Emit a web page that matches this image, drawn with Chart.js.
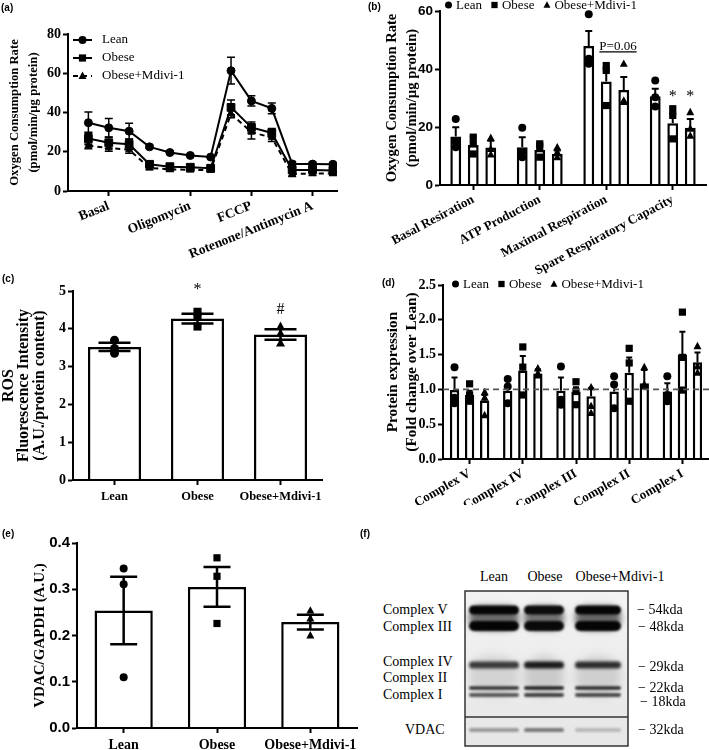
<!DOCTYPE html>
<html>
<head>
<meta charset="utf-8">
<title>Mitochondrial respiration panels</title>
<script src="https://cdn.jsdelivr.net/npm/chart.js@4.4.1/dist/chart.umd.min.js"></script>
<style>
  body { margin: 0; background: #fff; }
  #fig { position: relative; width: 709px; height: 750px; overflow: hidden; background: #fff; }
  .pane { position: absolute; }
  .tag { position: absolute; font: bold 10px "Liberation Sans", Arial, sans-serif; }
  .blt { position: absolute; font: 14px "Liberation Serif", serif; line-height: 16px; white-space: nowrap; }
</style>
</head>
<body>
<div id="fig">
  <div class="pane" style="left:0;top:0;width:350px;height:272px"><canvas id="chartA"></canvas></div>
  <div class="pane" style="left:350px;top:0;width:370px;height:275px"><canvas id="chartB"></canvas></div>
  <div class="pane" style="left:0;top:255px;width:330px;height:250px"><canvas id="chartC"></canvas></div>
  <div class="pane" style="left:350px;top:255px;width:370px;height:250px"><canvas id="chartD"></canvas></div>
  <div class="pane" style="left:0;top:505px;width:365px;height:245px"><canvas id="chartE"></canvas></div>
  <canvas id="blot" width="185" height="170" style="position:absolute;left:455px;top:585px"></canvas>

  <div class="tag" style="left:1px;top:2px">(a)</div>
  <div class="tag" style="left:368px;top:1px">(b)</div>
  <div class="tag" style="left:2px;top:273px">(c)</div>
  <div class="tag" style="left:382px;top:277px">(d)</div>
  <div class="tag" style="left:2px;top:528px">(e)</div>
  <div class="tag" style="left:360px;top:528px">(f)</div>

  <!-- (f) western blot labels -->
  <div class="blt" style="left:494px;top:577px;transform:translate(-50%,-50%)">Lean</div>
  <div class="blt" style="left:545px;top:577px;transform:translate(-50%,-50%)">Obese</div>
  <div class="blt" style="left:620px;top:577px;transform:translate(-50%,-50%)">Obese+Mdivi-1</div>
  <div class="blt" style="left:383px;top:610px;transform:translateY(-50%)">Complex V</div>
  <div class="blt" style="left:383px;top:627px;transform:translateY(-50%)">Complex III</div>
  <div class="blt" style="left:383px;top:662px;transform:translateY(-50%)">Complex IV</div>
  <div class="blt" style="left:383px;top:678px;transform:translateY(-50%)">Complex II</div>
  <div class="blt" style="left:383px;top:695px;transform:translateY(-50%)">Complex I</div>
  <div class="blt" style="left:405px;top:730px;transform:translateY(-50%)">VDAC</div>
  <div class="blt" style="left:637px;top:610px;transform:translateY(-50%)">− 54kda</div>
  <div class="blt" style="left:638px;top:627px;transform:translateY(-50%)">− 48kda</div>
  <div class="blt" style="left:638px;top:667px;transform:translateY(-50%)">− 29kda</div>
  <div class="blt" style="left:638px;top:688px;transform:translateY(-50%)">− 22kda</div>
  <div class="blt" style="left:640px;top:702px;transform:translateY(-50%)">− 18kda</div>
  <div class="blt" style="left:638px;top:730px;transform:translateY(-50%)">− 32kda</div>
</div>

<script>
// (a) OCR trace, 13 measurements
const ocrLabels = ["Basal", "Oligomycin", "FCCP", "Rotenone/Antimycin A"];
const ocrLabelAt = [2, 6, 9, 12];
const ocrLean = [34.8, 32.2, 30.5, 22.5, 19.6, 18.1, 17.3, 61.3, 45.9, 42.1, 13.8, 13.7, 13.6];
const ocrLeanErr = [5.4, 4.7, 4.0, 0.8, 0.6, 0.5, 0.5, 6.8, 2.6, 2.8, 1.2, 1.0, 0.8];
const ocrObese = [26.8, 24.6, 23.8, 13.6, 12.4, 12.1, 11.6, 42.6, 32.4, 29.6, 10.7, 10.7, 10.5];
const ocrObeseErr = [3.2, 2.8, 2.6, 1.6, 1.2, 1.0, 1.2, 3.8, 2.8, 2.2, 1.5, 1.4, 1.3];
const ocrMdivi = [23.0, 22.0, 21.0, 11.8, 11.0, 10.8, 10.7, 39.3, 30.0, 27.2, 8.6, 8.9, 8.9];
const ocrMdiviErr = [1.5, 1.8, 1.8, 1.0, 1.0, 1.0, 1.0, 2.0, 3.5, 2.0, 1.2, 1.0, 1.0];

// (b) respiration parameters
const respCats = ["Basal Resiration", "ATP Production", "Maximal Respiration", "Spare Respiratory Capacity"];
const respLean = [16.7, 13.0, 47.9, 30.6];
const respLeanErr = [3.2, 3.5, 5.2, 2.6];
const respObese = [13.8, 12.1, 35.7, 21.3];
const respObeseErr = [2.9, 2.3, 3.8, 3.2];
const respMdivi = [12.9, 10.7, 32.8, 19.7];
const respMdiviErr = [2.4, 1.2, 4.4, 3.1];
const respLeanDots = [[22.8, 15.0, 13.0], [19.7, 11.3, 9.6], [58.9, 43.5, 41.8], [36.0, 30.3, 27.1]];
const respObeseDots = [[16.5, 14.2, 10.7], [14.2, 13.0, 9.6], [41.2, 39.5, 27.4], [26.3, 24.0, 15.9]];
const respMdiviDots = [[16.2, 12.4, 10.5], [13.0, 11.3, 9.6], [41.8, 29.1, 28.6], [25.1, 19.4, 17.0]];
const respStars = ["", "*", "*"];
const respStarAt = 30.5;
const pText = "P=0.06";
const pLineAt = 45.9;

// (c) ROS
const groupNames = ["Lean", "Obese", "Obese+Mdivi-1"];
const rosMean = [3.52, 4.27, 3.85];
const rosErr = [0.11, 0.13, 0.14];
const rosDots = [[3.70, 3.48, 3.35], [4.45, 4.32, 4.06], [4.06, 3.88, 3.62]];
const rosSig = ["", "*", "#"];
const rosSigAt = [0, 5.02, 4.5];

// (d) OXPHOS complexes
const cxCats = ["Complex V", "Complex IV", "Complex III", "Complex II", "Complex I"];
const cxLean = [0.99, 0.98, 0.98, 0.97, 0.97];
const cxLeanErr = [0.18, 0.07, 0.19, 0.12, 0.12];
const cxObese = [0.92, 1.27, 0.97, 1.24, 1.50];
const cxObeseErr = [0.06, 0.21, 0.06, 0.22, 0.33];
const cxMdivi = [0.84, 1.23, 0.90, 1.09, 1.39];
const cxMdiviErr = [0.08, 0.06, 0.12, 0.19, 0.14];
const cxLeanDots = [[1.32, 0.88, 0.80], [1.15, 1.04, 0.80], [1.33, 0.85, 0.78], [1.19, 1.07, 0.73], [1.19, 0.92, 0.83]];
const cxObeseDots = [[1.08, 0.92, 0.83], [1.61, 1.32, 0.92], [1.11, 0.97, 0.78], [1.59, 1.38, 0.83], [2.11, 1.46, 0.99]];
const cxMdiviDots = [[0.96, 0.88, 0.63], [1.30, 1.23, 1.20], [1.03, 0.76, 0.66], [1.32, 1.07, 1.04], [1.62, 1.33, 1.24]];
const foldRef = 1.0;

// (e) VDAC/GAPDH
const vdacMean = [0.254, 0.305, 0.229];
const vdacErr = [0.073, 0.043, 0.016];
const vdacDots = [[0.345, 0.311, 0.110], [0.368, 0.328, 0.226], [0.254, 0.237, 0.200]];

const groupMarks = ["circle", "rect", "triangle"];

Chart.defaults.font.family = "'Liberation Serif', 'Times New Roman', serif";
Chart.defaults.color = '#000';
Chart.defaults.animation = false;
Chart.defaults.plugins.legend.display = false;
Chart.defaults.plugins.tooltip.enabled = false;

const serifB = (size, lineHeight) => ({ family: "'Liberation Serif', serif", weight: 'bold', size, lineHeight: lineHeight || 1.2 });
const sansB = size => ({ family: "'Liberation Sans', Arial, sans-serif", weight: 'bold', size });

// small filled marker
function mark(ctx, style, x, y, r) {
    ctx.beginPath();
    if (style === 'rect') {
        ctx.rect(x - r * 0.9, y - r * 0.9, r * 1.8, r * 1.8);
    } else if (style === 'triangle') {
        ctx.moveTo(x, y - r * 1.1);
        ctx.lineTo(x + r, y + r * 0.75);
        ctx.lineTo(x - r, y + r * 0.75);
        ctx.closePath();
    } else {
        ctx.arc(x, y, r, 0, Math.PI * 2);
    }
    ctx.fill();
}

// individual animals drawn over each bar
const dotMarks = {
    id: 'dotMarks',
    afterDatasetsDraw(chart, args, o) {
        const ctx = chart.ctx, y = chart.scales.y;
        ctx.save();
        ctx.fillStyle = '#000';
        chart.data.datasets.forEach((ds, d) => {
            if (!ds.dots) return;
            chart.getDatasetMeta(d).data.forEach((el, i) => {
                const style = Array.isArray(ds.mark) ? ds.mark[i] : ds.mark;
                ds.dots[i].forEach(v => mark(ctx, style, el.x, y.getPixelForValue(v), o.r || 4));
            });
        });
        ctx.restore();
    }
};

// SEM error bars
const errorBars = {
    id: 'errorBars',
    afterDatasetsDraw(chart, args, o) {
        const ctx = chart.ctx, y = chart.scales.y;
        ctx.save();
        ctx.strokeStyle = '#000';
        ctx.lineWidth = o.width || 2;
        chart.data.datasets.forEach((ds, d) => {
            if (!ds.errors) return;
            chart.getDatasetMeta(d).data.forEach((el, i) => {
                const raw = ds.data[i];
                const v = typeof raw === 'object' ? raw.y : raw;
                const e = ds.errors[i];
                const x = el.x, c = (o.cap || 8) / 2;
                const yv = y.getPixelForValue(v), yt = y.getPixelForValue(v + e), yb = y.getPixelForValue(v - e);
                ctx.beginPath();
                ctx.moveTo(x, o.both ? yb : yv);
                ctx.lineTo(x, yt);
                ctx.moveTo(x - c, yt);
                ctx.lineTo(x + c, yt);
                if (o.both) {
                    ctx.moveTo(x - c, yb);
                    ctx.lineTo(x + c, yb);
                }
                ctx.stroke();
            });
        });
        ctx.restore();
    }
};

// legend with line/marker samples
const miniLegend = {
    id: 'miniLegend',
    afterDraw(chart, args, o) {
        if (!o.font) return;
        const ctx = chart.ctx, a = chart.chartArea;
        ctx.save();
        ctx.font = o.font;
        ctx.fillStyle = '#000';
        ctx.strokeStyle = '#000';
        ctx.textBaseline = 'middle';
        let x = a.left + o.x, y = a.top + o.y;
        chart.data.datasets.forEach(ds => {
            const style = ds.mark || ds.pointStyle;
            if (o.vertical) {
                ctx.lineWidth = 2;
                ctx.setLineDash(ds.borderDash || []);
                ctx.beginPath();
                ctx.moveTo(x, y);
                ctx.lineTo(x + o.lineLen, y);
                ctx.stroke();
                ctx.setLineDash([]);
                mark(ctx, style, x + o.lineLen / 2, y, o.r);
                ctx.fillText(ds.label, x + o.lineLen + o.gap, y);
                y += o.row;
            } else {
                mark(ctx, style, x + o.r, y, o.r);
                ctx.fillText(ds.label, x + 2 * o.r + o.gap, y + 1);
                x += 2 * o.r + o.gap + ctx.measureText(ds.label).width + o.space;
            }
        });
        ctx.restore();
    }
};

Chart.register(dotMarks, errorBars, miniLegend);

function yAxis(o) {
    return {
        min: o.min, max: o.max,
        afterFit: s => { s.width = o.width; },
        border: { color: '#000', width: 2 },
        grid: { drawOnChartArea: false, color: '#000', tickLength: 5, tickWidth: 2 },
        ticks: {
            stepSize: o.step, padding: 2, color: '#000', font: o.tickFont,
            callback: v => o.digits ? v.toFixed(o.digits) : v
        },
        title: { display: true, text: o.title, color: '#000', font: o.titleFont, padding: { top: o.titlePad, bottom: 0 } }
    };
}

function xAxis(o) {
    const ticks = { autoSkip: false, minRotation: o.rot || 0, maxRotation: o.rot || 0, padding: o.pad, color: '#000', font: o.font };
    if (o.cb) ticks.callback = o.cb;
    return Object.assign({
        afterFit: s => { s.height = o.height; },
        border: { color: '#000', width: 2, z: 1 },
        grid: { drawOnChartArea: false, offset: false, color: '#000', tickLength: 5, tickWidth: 2 },
        ticks: ticks
    }, o.extra || {});
}

const bars = list => list.map(ds => Object.assign({ backgroundColor: '#fff', borderColor: '#000', borderWidth: 2.5 }, ds));
const pts = arr => arr.map((y, i) => ({ x: i + 1, y }));

// (a)
new Chart(document.getElementById('chartA'), {
    type: 'line',
    data: {
        datasets: [
            { label: 'Lean', data: pts(ocrLean), errors: ocrLeanErr, pointStyle: 'circle', pointRadius: 4 },
            { label: 'Obese', data: pts(ocrObese), errors: ocrObeseErr, pointStyle: 'rect', pointRadius: 5.5 },
            { label: 'Obese+Mdivi-1', data: pts(ocrMdivi), errors: ocrMdiviErr, pointStyle: 'triangle', pointRadius: 4, borderDash: [5, 4] }
        ].map(ds => Object.assign({
            borderColor: '#000', backgroundColor: '#000', pointBackgroundColor: '#000', pointBorderColor: '#000',
            borderWidth: 2, pointBorderWidth: 1, tension: 0
        }, ds))
    },
    options: {
        responsive: true, maintainAspectRatio: false,
        layout: { padding: { left: 0, top: 34, right: 13, bottom: 0 } },
        scales: {
            x: xAxis({
                height: 81, rot: 22, pad: 2, font: serifB(13.5), cb: (v, i) => ocrLabels[i],
                extra: { type: 'linear', min: 0, max: 13.2, afterBuildTicks: s => { s.ticks = ocrLabelAt.map(v => ({ value: v })); } }
            }),
            y: yAxis({
                min: 0, max: 80, step: 20, width: 68,
                title: ['Oxygen Consumption Rate', '(pmol/min/µg protein)'],
                titleFont: serifB(12.7, 1.44), titlePad: 6, tickFont: serifB(14)
            })
        },
        plugins: {
            errorBars: { both: true, cap: 8, width: 1.5 },
            miniLegend: { vertical: true, x: 5, y: 6, row: 18, lineLen: 19, gap: 10, r: 4, font: "13px 'Liberation Serif'" }
        }
    }
});

// (b)
const respNotes = {
    id: 'respNotes',
    afterDatasetsDraw(chart) {
        const ctx = chart.ctx, y = chart.scales.y;
        const xo = chart.getDatasetMeta(1).data[2].x, xm = chart.getDatasetMeta(2).data[2].x;
        ctx.save();
        ctx.fillStyle = '#000';
        ctx.strokeStyle = '#000';
        ctx.font = "13px 'Liberation Serif'";
        ctx.textAlign = 'center';
        const ly = y.getPixelForValue(pLineAt);
        const tx = (xo + xm) / 2 + 3;
        const w = ctx.measureText(pText).width;
        ctx.fillText(pText, tx, ly - 2);
        ctx.lineWidth = 1.2;
        ctx.beginPath();
        ctx.moveTo(tx - w / 2, ly);
        ctx.lineTo(tx + w / 2, ly);
        ctx.stroke();
        ctx.font = "16px 'Liberation Serif'";
        ctx.textBaseline = 'middle';
        respStars.forEach((s, d) => {
            if (s) ctx.fillText(s, chart.getDatasetMeta(d).data[3].x, y.getPixelForValue(respStarAt));
        });
        ctx.restore();
    }
};

new Chart(document.getElementById('chartB'), {
    type: 'bar',
    data: {
        labels: respCats,
        datasets: bars([
            { label: 'Lean', data: respLean, errors: respLeanErr, dots: respLeanDots, mark: 'circle' },
            { label: 'Obese', data: respObese, errors: respObeseErr, dots: respObeseDots, mark: 'rect' },
            { label: 'Obese+Mdivi-1', data: respMdivi, errors: respMdiviErr, dots: respMdiviDots, mark: 'triangle' }
        ])
    },
    options: {
        responsive: true, maintainAspectRatio: false,
        layout: { padding: { left: 0, top: 11, right: 14, bottom: 0 } },
        datasets: { bar: { categoryPercentage: 0.79, barPercentage: 0.62 } },
        scales: {
            x: xAxis({ height: 90, rot: 28, pad: 2, font: serifB(13) }),
            y: yAxis({
                min: 0, max: 60, step: 20, width: 90,
                title: ['Oxygen Consumption Rate', '(pmol/min/µg protein)'],
                titleFont: serifB(14.6, 1.36), titlePad: 32, tickFont: sansB(13.5)
            })
        },
        plugins: {
            errorBars: { cap: 7, width: 2 },
            dotMarks: { r: 4 },
            miniLegend: { x: 5, y: -6, r: 3.5, gap: 4, space: 9, font: "13px 'Liberation Serif'" }
        }
    },
    plugins: [respNotes]
});

// (c)
const rosNotes = {
    id: 'rosNotes',
    afterDatasetsDraw(chart) {
        const ctx = chart.ctx, y = chart.scales.y, els = chart.getDatasetMeta(0).data;
        ctx.save();
        ctx.fillStyle = '#000';
        ctx.font = "16px 'Liberation Serif'";
        ctx.textAlign = 'center';
        ctx.textBaseline = 'middle';
        rosSig.forEach((s, i) => {
            if (s) ctx.fillText(s, els[i].x, y.getPixelForValue(rosSigAt[i]));
        });
        ctx.restore();
    }
};

new Chart(document.getElementById('chartC'), {
    type: 'bar',
    data: {
        labels: groupNames,
        datasets: bars([{ label: 'ROS', data: rosMean, errors: rosErr, dots: rosDots, mark: groupMarks }])
    },
    options: {
        responsive: true, maintainAspectRatio: false,
        layout: { padding: { left: 0, top: 36, right: 8, bottom: 0 } },
        datasets: { bar: { categoryPercentage: 0.8, barPercentage: 0.8 } },
        scales: {
            x: xAxis({ height: 25, pad: 4, font: serifB(12.5) }),
            y: yAxis({
                min: 0, max: 5, step: 1, width: 73,
                title: ['ROS', 'Fluorescence Intensity', '(A.U./protein content)'],
                titleFont: serifB(16, 0.96), titlePad: 1.3, tickFont: serifB(14)
            })
        },
        plugins: { errorBars: { both: true, cap: 32, width: 2.5 }, dotMarks: { r: 4.5 } }
    },
    plugins: [rosNotes]
});

// (d)
const foldLine = {
    id: 'foldLine',
    afterDatasetsDraw(chart) {
        const ctx = chart.ctx, a = chart.chartArea, py = chart.scales.y.getPixelForValue(foldRef);
        ctx.save();
        ctx.strokeStyle = '#555';
        ctx.lineWidth = 1.6;
        ctx.setLineDash([6, 4]);
        ctx.beginPath();
        ctx.moveTo(a.left, py);
        ctx.lineTo(a.right, py);
        ctx.stroke();
        ctx.restore();
    }
};

new Chart(document.getElementById('chartD'), {
    type: 'bar',
    data: {
        labels: cxCats,
        datasets: bars([
            { label: 'Lean', data: cxLean, errors: cxLeanErr, dots: cxLeanDots, mark: 'circle' },
            { label: 'Obese', data: cxObese, errors: cxObeseErr, dots: cxObeseDots, mark: 'rect' },
            { label: 'Obese+Mdivi-1', data: cxMdivi, errors: cxMdiviErr, dots: cxMdiviDots, mark: 'triangle' }
        ])
    },
    options: {
        responsive: true, maintainAspectRatio: false,
        layout: { padding: { left: 0, top: 30, right: 11, bottom: 0 } },
        datasets: { bar: { categoryPercentage: 0.85, barPercentage: 0.62 } },
        scales: {
            x: xAxis({ height: 46, rot: 30, pad: 2, font: serifB(13) }),
            y: yAxis({
                min: 0, max: 2.5, step: 0.5, width: 93, digits: 1,
                title: ['Protein expression', '(Fold change over Lean)'],
                titleFont: serifB(15.3, 1.24), titlePad: 33.5, tickFont: serifB(14)
            })
        },
        plugins: {
            errorBars: { cap: 6, width: 2 },
            dotMarks: { r: 4 },
            miniLegend: { x: 9, y: -1, r: 3.5, gap: 4, space: 9, font: "13px 'Liberation Serif'" }
        }
    },
    plugins: [foldLine]
});

// (e)
new Chart(document.getElementById('chartE'), {
    type: 'bar',
    data: {
        labels: groupNames,
        datasets: bars([{ label: 'VDAC/GAPDH', data: vdacMean, errors: vdacErr, dots: vdacDots, mark: groupMarks }])
    },
    options: {
        responsive: true, maintainAspectRatio: false,
        layout: { padding: { left: 0, top: 38, right: 8, bottom: 0 } },
        datasets: { bar: { categoryPercentage: 0.8, barPercentage: 0.78 } },
        scales: {
            x: xAxis({ height: 22, pad: 3.5, font: serifB(14) }),
            y: yAxis({
                min: 0, max: 0.4, step: 0.1, width: 77, digits: 1,
                title: 'VDAC/GAPDH (A.U.)',
                titleFont: serifB(15), titlePad: 31, tickFont: sansB(15)
            })
        },
        plugins: { errorBars: { both: true, cap: 27, width: 2.5 }, dotMarks: { r: 4 } }
    }
});

// (f) western blot picture
function drawBlot() {
    const ctx = document.getElementById('blot').getContext('2d');
    ctx.translate(-455, -585);
    const L = 465, R = 628, T = 591, B = 746, split = 717;
    const g = ctx.createLinearGradient(0, T, 0, B);
    g.addColorStop(0, '#f3f3f3');
    g.addColorStop(1, '#e6e6e6');
    ctx.fillStyle = g;
    ctx.fillRect(L, T, R - L, B - T);

    const lanes = [[469, 519], [524, 564], [575, 621]];
    // [centre y, height, shade per lane, blur]
    const bands = [
        [618, 24, ['#6a6a6a', '#707070', '#666'], 3],
        [676, 40, ['#d2d2d2', '#cacaca', '#cfcfcf'], 4],
        [610, 9, ['#050505', '#0c0c0c', '#050505'], 1.2],
        [626, 10, ['#050505', '#0a0a0a', '#050505'], 1.2],
        [665, 7, ['#3a3a3a', '#1a1a1a', '#2c2c2c'], 1.6],
        [688, 3.5, ['#333', '#1e1e1e', '#2a2a2a'], 1],
        [695, 4, ['#5a5a5a', '#444', '#4a4a4a'], 1.2],
        [730, 4, ['#9a9a9a', '#7a7a7a', '#b8b8b8'], 1.2]
    ];
    bands.forEach(([y, h, shades, blur]) => {
        ctx.filter = 'blur(' + blur + 'px)';
        lanes.forEach(([a, b], i) => {
            ctx.fillStyle = shades[i];
            ctx.beginPath();
            ctx.roundRect(a, y - h / 2, b - a, h, h / 2);
            ctx.fill();
        });
    });
    ctx.filter = 'none';
    ctx.strokeStyle = '#333';
    ctx.lineWidth = 1.5;
    ctx.strokeRect(L, T, R - L, B - T);
    ctx.beginPath();
    ctx.moveTo(L, split);
    ctx.lineTo(R, split);
    ctx.stroke();
}
drawBlot();
</script>
</body>
</html>
